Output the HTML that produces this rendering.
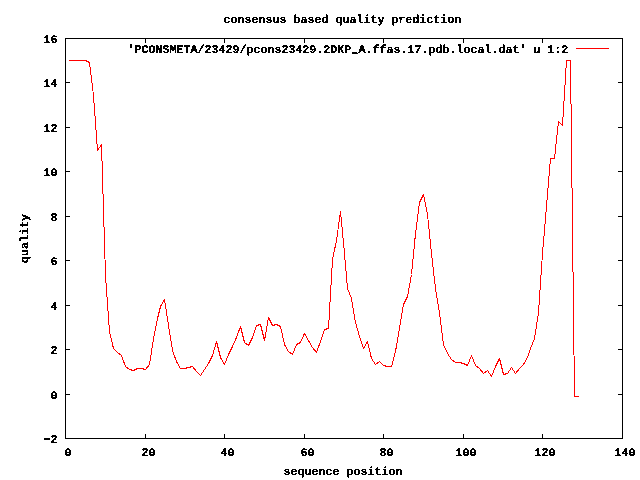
<!DOCTYPE html><html><head><meta charset="utf-8"><title>consensus based quality prediction</title>
<style>html,body{margin:0;padding:0;background:#fff;width:640px;height:480px;overflow:hidden}svg{display:block}text{font-family:"Liberation Mono",monospace;font-weight:bold;font-size:11.6667px;fill:#000;text-rendering:geometricPrecision}</style></head><body>
<svg width="640" height="480" viewBox="0 0 640 480">
<defs><filter id="bin" x="0" y="0" width="640" height="480" filterUnits="userSpaceOnUse"><feComponentTransfer><feFuncA type="discrete" tableValues="0 1 1"/></feComponentTransfer></filter><filter id="bin2" x="0" y="0" width="640" height="480" filterUnits="userSpaceOnUse"><feComponentTransfer><feFuncA type="discrete" tableValues="0 1 1"/></feComponentTransfer></filter></defs>
<rect x="0" y="0" width="640" height="480" fill="#fff"/>
<g fill="#000"><rect x="65" y="434" width="1" height="5"/><rect x="65" y="38" width="1" height="5"/><rect x="145" y="434" width="1" height="5"/><rect x="145" y="38" width="1" height="5"/><rect x="224" y="434" width="1" height="5"/><rect x="224" y="38" width="1" height="5"/><rect x="304" y="434" width="1" height="5"/><rect x="304" y="38" width="1" height="5"/><rect x="383" y="434" width="1" height="5"/><rect x="383" y="38" width="1" height="5"/><rect x="463" y="434" width="1" height="5"/><rect x="463" y="38" width="1" height="5"/><rect x="542" y="434" width="1" height="5"/><rect x="542" y="38" width="1" height="5"/><rect x="622" y="434" width="1" height="5"/><rect x="622" y="38" width="1" height="5"/><rect x="65" y="438" width="5" height="1"/><rect x="618" y="438" width="5" height="1"/><rect x="65" y="394" width="5" height="1"/><rect x="618" y="394" width="5" height="1"/><rect x="65" y="349" width="5" height="1"/><rect x="618" y="349" width="5" height="1"/><rect x="65" y="305" width="5" height="1"/><rect x="618" y="305" width="5" height="1"/><rect x="65" y="260" width="5" height="1"/><rect x="618" y="260" width="5" height="1"/><rect x="65" y="216" width="5" height="1"/><rect x="618" y="216" width="5" height="1"/><rect x="65" y="171" width="5" height="1"/><rect x="618" y="171" width="5" height="1"/><rect x="65" y="127" width="5" height="1"/><rect x="618" y="127" width="5" height="1"/><rect x="65" y="82" width="5" height="1"/><rect x="618" y="82" width="5" height="1"/><rect x="65" y="38" width="5" height="1"/><rect x="618" y="38" width="5" height="1"/><rect x="65" y="38" width="558" height="1"/><rect x="65" y="438" width="558" height="1"/><rect x="65" y="38" width="1" height="401"/><rect x="622" y="38" width="1" height="401"/></g>
<g filter="url(#bin)">
<text transform="translate(47,442) scale(1.6,1)" text-anchor="middle">-</text><text x="50.5" y="443">2</text>
<text x="50.5" y="399">0</text>
<text x="50.5" y="354">2</text>
<text x="50.5" y="310">4</text>
<text x="50.5" y="265">6</text>
<text x="50.5" y="221">8</text>
<text x="43.5" y="176">10</text>
<text x="43.5" y="132">12</text>
<text x="43.5" y="87">14</text>
<text x="43.5" y="43">16</text>
<text x="64.5" y="456">0</text>
<text x="141.5" y="456">20</text>
<text x="220.5" y="456">40</text>
<text x="300.5" y="456">60</text>
<text x="379.5" y="456">80</text>
<text x="455.5" y="456">100</text>
<text x="534.5" y="456">120</text>
<text x="614.5" y="456">140</text>
<text x="223.5" y="23">consensus based quality prediction</text>
<text x="283.5" y="475">sequence position</text>
<text x="127.5" y="53">'PCONSMETA/23429/pcons23429.2DKP</text><text transform="translate(352.5,49.8) scale(0.7,3.3)">_</text><text x="358.5" y="53">A.ffas.17.pdb.local.dat' u 1:2</text>
</g>
<g filter="url(#bin2)"><text transform="translate(28,263) rotate(-90)">quality</text></g>
<rect x="576" y="48" width="33" height="1" fill="#f00"/>
<polyline points="69.5,60.5 73.5,60.5 77.5,60.5 81.5,60.5 85.5,60.5 89.5,62.5 93.5,95.5 97.5,150.5 101.5,144.5 105.5,275.5 109.5,331.5 113.5,348.5 117.5,352.5 121.5,355.5 125.5,366.5 129.5,369.5 133.5,370.5 137.5,368.5 141.5,368.5 145.5,369.5 149.5,364.5 153.5,338.5 157.5,318.5 160.5,306.5 164.5,299.5 168.5,325.5 172.5,350.5 176.5,361.5 180.5,368.5 184.5,368.5 188.5,367.5 192.5,366.5 196.5,371.5 200.5,375.5 204.5,369.5 208.5,363.5 212.5,355.5 216.5,341.5 220.5,357.5 224.5,364.5 228.5,354.5 232.5,346.5 236.5,337.5 240.5,326.5 244.5,342.5 248.5,345.5 252.5,337.5 256.5,325.5 260.5,324.5 264.5,340.5 268.5,317.5 272.5,325.5 276.5,324.5 280.5,326.5 284.5,344.5 288.5,351.5 292.5,354.5 296.5,344.5 300.5,342.5 304.5,333.5 308.5,340.5 312.5,347.5 316.5,352.5 320.5,341.5 324.5,329.5 328.5,328.5 332.5,259.5 336.5,240.5 340.5,211.5 344.5,253.5 347.5,288.5 351.5,298.5 355.5,322.5 359.5,336.5 363.5,348.5 367.5,341.5 371.5,358.5 375.5,364.5 379.5,361.5 383.5,365.5 387.5,366.5 391.5,366.5 395.5,351.5 399.5,328.5 403.5,304.5 407.5,296.5 411.5,274.5 415.5,233.5 419.5,202.5 423.5,194.5 427.5,214.5 431.5,253.5 435.5,288.5 439.5,312.5 443.5,344.5 447.5,353.5 451.5,359.5 455.5,362.5 459.5,362.5 463.5,363.5 467.5,365.5 471.5,355.5 475.5,365.5 479.5,368.5 483.5,373.5 487.5,370.5 491.5,376.5 495.5,366.5 499.5,358.5 503.5,374.5 507.5,373.5 511.5,367.5 515.5,373.5 519.5,368.5 523.5,364.5 527.5,357.5 530.5,348.5 534.5,338.5 538.5,312.5 542.5,253.5 546.5,206.5 550.5,158.5 554.5,158.5 558.5,121.5 562.5,125.5 566.5,60.5 570.5,60.5 574.5,396.5 578.5,396.5" fill="none" stroke="#f00" stroke-width="1" stroke-linejoin="bevel" stroke-linecap="square" shape-rendering="crispEdges"/>
</svg></body></html>
